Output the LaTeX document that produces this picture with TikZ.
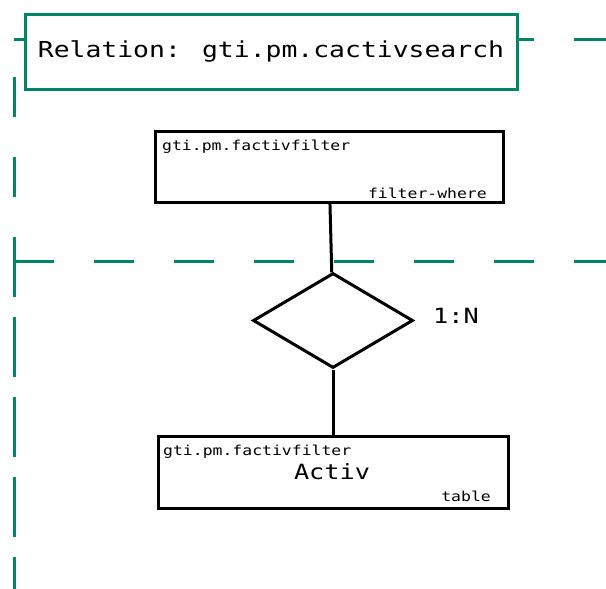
\documentclass[tikz,border=0pt]{standalone}
\usepackage{fontspec}
\usepackage{tikz}
\usetikzlibrary{shapes.geometric, positioning}
\newfontfamily\ermono[FakeStretch=1.2]{DejaVu Sans Mono}
\definecolor{relgreen}{RGB}{0,132,102}

\begin{document}
\begin{tikzpicture}[x=1pt, y=-1pt,
  relframe/.style={draw=relgreen, line width=3pt},
  titlebox/.style={rectangle, draw=relgreen, line width=3pt, fill=white, inner sep=0pt,
    minimum width=492pt, minimum height=75pt, font=\ermono\fontsize{22}{26}\selectfont},
  entity/.style={rectangle, draw=black, line width=3pt, fill=white, inner sep=0pt},
  relship/.style={diamond, draw=black, line width=3pt, fill=white, inner sep=0pt,
    minimum width=160pt, minimum height=95pt},
  small/.style={inner sep=0pt, font=\ermono\fontsize{13.7}{16}\selectfont},
  big/.style={inner sep=0pt, font=\ermono\fontsize{21}{25}\selectfont},
  every edge/.style={draw=black, line width=3pt}
]
\useasboundingbox (0,0) rectangle (606,589);

% ---- dashed frame ----
\draw[relframe, dash pattern=on 40pt off 40pt] (14,39) -- (606,39);
\draw[relframe, dash pattern=on 40pt off 40pt, dash phase=42pt] (14,39) -- (14,261);
\draw[relframe, dash pattern=on 40pt off 40pt] (14,261) -- (606,261);
\draw[relframe, dash pattern=on 60pt off 20pt, dash phase=24pt] (14,261) -- (14,589);

\node[titlebox] (title) at (271,51.5) {Relation: gti.pm.cactivsearch};

% ---- entities and relation ----
\node[entity, minimum width=348pt, minimum height=71pt] (filter) at (329,166.5) {};
\node[relship] (rel) at (333,320.5) {};
\node[entity, minimum width=350pt, minimum height=72pt] (activ) at (333,472) {};

\node[small, anchor=base west] (filtername) at (162,150) {gti.pm.factivfilter};
\node[small, anchor=base east] (filtertype) at (487,198) {filter-where};
\node[big, anchor=base west]   (card)       at (433,323) {1:N};
\node[small, anchor=base west] (activname)  at (163,455) {gti.pm.factivfilter};
\node[big, anchor=base]        (activlabel) at (332,479) {Activ};
\node[small, anchor=base east] (activtype)  at (491,501) {table};

\draw (filter) edge (rel);
\draw (rel) edge (activ);
\end{tikzpicture}
\end{document}
